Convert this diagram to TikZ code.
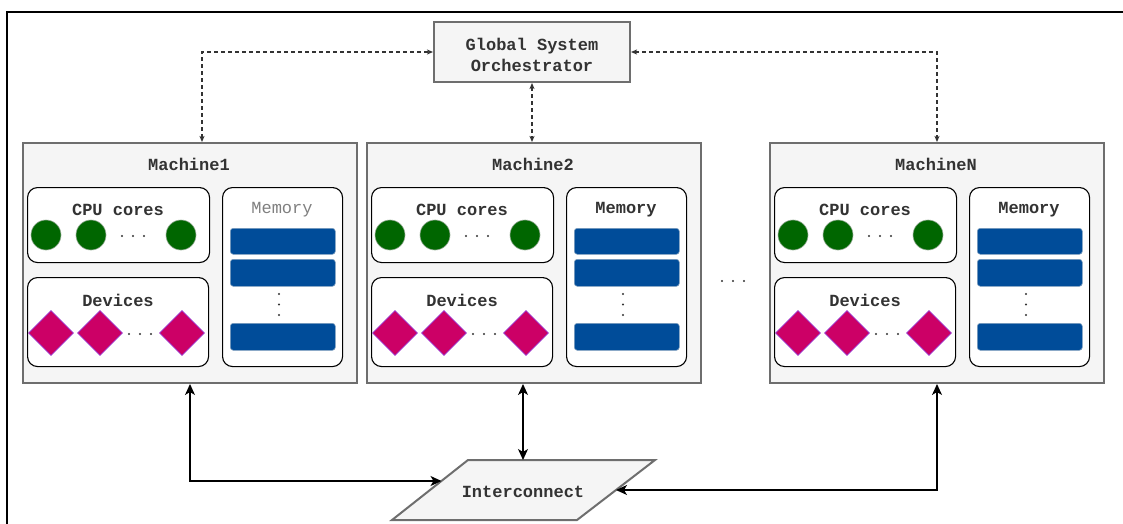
\documentclass[tikz,border=0pt]{standalone}
\usepackage{fontspec}
\setmonofont{Liberation Mono}
\usetikzlibrary{arrows.meta,shapes.geometric}
\definecolor{boxfill}{HTML}{F5F5F5}
\definecolor{boxline}{HTML}{6E6E6E}
\definecolor{txt}{HTML}{333333}
\definecolor{cpu}{HTML}{006600}
\definecolor{cpuline}{HTML}{8FA88F}
\definecolor{mem}{HTML}{004C99}
\definecolor{memline}{HTML}{7F9FBF}
\definecolor{dev}{HTML}{CC0066}
\definecolor{devline}{HTML}{9933CC}
\definecolor{memgray}{HTML}{808080}
\tikzset{
  bigbox/.style={draw=boxline, fill=boxfill, line width=2pt, inner sep=0pt},
  inbox/.style={draw=black, fill=white, line width=1.1pt, rounded corners=10pt, inner sep=0pt, anchor=north west},
  lbl/.style={text=txt, font=\ttfamily\bfseries\fontsize{17}{21}\selectfont, inner sep=0pt},
  memlbl/.style={text=memgray, font=\ttfamily\fontsize{17}{21}\selectfont, inner sep=0pt},
  core/.style={circle, draw=cpuline, fill=cpu, line width=0.6pt, minimum size=30pt, inner sep=0pt},
  devd/.style={diamond, draw=devline, fill=dev, line width=0.6pt, minimum size=45pt, inner sep=0pt},
  bar/.style={draw=memline, fill=mem, line width=0.6pt, rounded corners=3pt, anchor=north west, inner sep=0pt, minimum width=105pt},
  conn/.style={draw=black, line width=1.3pt, {Stealth[length=11pt,width=10pt,inset=3pt]}-{Stealth[length=11pt,width=10pt,inset=3pt]}},
  dconn/.style={draw=txt, line width=1.2pt, dash pattern=on 4pt off 3pt, {Stealth[length=6pt,width=5pt,inset=1.5pt]}-{Stealth[length=6pt,width=5pt,inset=1.5pt]}},
  dotc/.style={fill=txt}
}
\newcommand\mymachine[4]{%
  \node[bigbox, anchor=north west, minimum width=334pt, minimum height=240pt] (#1) at (#2,142) {};
  \node[lbl] (#1-t) at ({#2+167},164) {#3};
  \node[inbox, minimum width=182pt, minimum height=75pt] (#1-cpu) at ({#2+5},187) {};
  \node[lbl] (#1-cpuT) at ({#2+96},210) {CPU cores};
  \node[core] (#1-c1) at ({#2+24},235) {};
  \node[core] (#1-c2) at ({#2+69},235) {};
  \node[core] (#1-c3) at ({#2+159},235) {};
  \foreach \d in {100,111,122} {\fill[dotc] ({#2+\d},236) circle (1.1pt);}
  \node[inbox, minimum width=181pt, minimum height=89pt] (#1-dev) at ({#2+5},277) {};
  \node[lbl] (#1-devT) at ({#2+96},300) {Devices};
  \node[devd] (#1-d1) at ({#2+29},333) {};
  \node[devd] (#1-d2) at ({#2+78},333) {};
  \node[devd] (#1-d3) at ({#2+160},333) {};
  \foreach \d in {107,118,129} {\fill[dotc] ({#2+\d},334) circle (1.1pt);}
  \node[inbox, minimum width=120pt, minimum height=179pt] (#1-mem) at ({#2+200},187) {};
  \node[#4] (#1-memT) at ({#2+260},210) {Memory};
  \node[bar, minimum height=26pt] (#1-b1) at ({#2+208},228) {};
  \node[bar, minimum height=27pt] (#1-b2) at ({#2+208},259) {};
  \node[bar, minimum height=27pt] (#1-b3) at ({#2+208},323) {};
  \foreach \d in {294,304.5,315} {\fill[dotc] ({#2+257},\d) circle (1.1pt);}
}
\begin{document}
\begin{tikzpicture}[x=1pt,y=-1pt]
\useasboundingbox (0,0) rectangle (1123,524);
% frame
\draw[line width=1.3pt, black] (7,524) -- (7,12) -- (1123,12);
% orchestrator
\node[bigbox, minimum width=196pt, minimum height=60pt] (orch) at (532,52) {};
\node[lbl, align=center] (orchT) at (532,55) {Global System\\Orchestrator};
% machines
\mymachine{m1}{22}{Machine1}{memlbl}
\mymachine{m2}{366}{Machine2}{lbl}
\mymachine{mN}{769}{MachineN}{lbl}
\foreach \d in {722,733,744} {\fill[dotc] (\d,281) circle (1.1pt);}
% interconnect
\draw[bigbox] (468,460) -- (655,460) -- (577,520) -- (392,520) -- cycle;
\node[lbl] (ic) at (523,492) {Interconnect};
\coordinate (icL) at (441.5,481);
\coordinate (icR) at (616,490);
\coordinate (icT) at (523,460);
% connectors
\draw[conn] ([xshift=0pt]m1.south) |- (icL);
\draw[conn] (icT |- m2.south) -- (icT);
\draw[conn] (mN.south) |- (icR);
\draw[dconn] ([xshift=12pt]m1.north) |- (orch.west);
\draw[dconn] (orch.south) -- (orch.south |- m2.north);
\draw[dconn] (orch.east) -| (mN.north);
\end{tikzpicture}
\end{document}
